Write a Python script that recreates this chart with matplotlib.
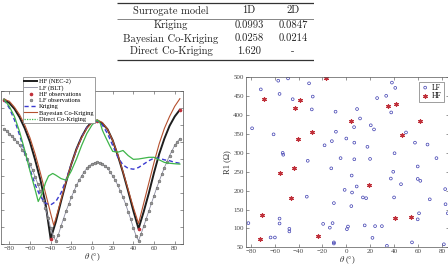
import matplotlib
matplotlib.use("Agg")
import matplotlib.pyplot as plt
from matplotlib.lines import Line2D

plt.rcParams["font.family"] = ["Liberation Serif", "DejaVu Serif"]
plt.rcParams["mathtext.fontset"] = "stix"

# ---- table ----
tab_header = ["Surrogate model", "1D", "2D"]
tab_models = ["Kriging", "Bayesian Co-Kriging", "Direct Co-Kriging"]
tab_1d = ["0.0993", "0.0258", "1.620"]
tab_2d = ["0.0847", "0.0214", "-"]

# ---- left panel (1D pattern) ----
hf_th = [-85, -80, -75, -70, -65, -60, -55, -50, -45, -40, -35, -30, -25, -20, -15,
         -10, -5, 0, 5, 10, 15, 20, 25, 30, 35, 40, 45, 50, 55, 60, 65, 70, 75, 80, 85]
hf_val = [8.5, 8.3, 7.95, 7.45, 6.8, 6.0, 4.95, 3.8, 2.4, 0.3, 1.3, 2.5, 3.65, 4.7, 5.6,
          6.3, 6.85, 7.2, 7.25, 7.1, 6.75, 6.1, 5.2, 4.2, 3.1, 1.95, 0.9, 1.9, 3.0, 4.2,
          5.3, 6.2, 6.95, 7.5, 7.9]

lf_th = [-85 + 2.5 * i for i in range(69)]
lf_val = [6.75, 6.65, 6.5, 6.35, 6.2, 6.0, 5.8, 5.55, 5.3, 5.0, 4.7, 4.35, 3.95, 3.55,
          3.1, 2.6, 2.1, 1.55, 0.95, 0.45, 0.2, 0.55, 1.05, 1.5, 1.95, 2.35, 2.75, 3.1,
          3.45, 3.75, 4.0, 4.25, 4.45, 4.6, 4.7, 4.78, 4.8, 4.78, 4.7, 4.6, 4.45, 4.25,
          4.0, 3.75, 3.45, 3.1, 2.75, 2.35, 1.9, 1.45, 0.95, 0.5, 0.2, 0.6, 1.05, 1.5,
          1.95, 2.4, 2.85, 3.3, 3.7, 4.1, 4.5, 4.85, 5.2, 5.5, 5.8, 6.0, 6.2]

hf_obs_th = [-85, -40, 5, 45, 85]
hf_obs_val = [8.5, 0.3, 7.25, 0.9, 7.9]

kr_th = [-85, -80, -75, -70, -65, -60, -55, -50, -45, -40, -35, -30, -25, -20, -15,
         -10, -5, 0, 5, 10, 15, 20, 25, 30, 35, 40, 45, 50, 55, 60, 65, 70, 75, 80, 85]
kr_val = [8.5, 8.0, 7.3, 6.4, 5.4, 4.4, 3.5, 2.8, 2.4, 2.3, 2.5, 3.0, 3.8, 4.7, 5.55,
          6.3, 6.85, 7.2, 7.25, 7.0, 6.5, 5.8, 5.1, 4.65, 4.45, 4.4, 4.5, 4.7, 4.9, 5.05,
          5.05, 4.95, 4.9, 4.8, 4.75]

bck_th = [-85, -80, -75, -70, -65, -60, -55, -50, -45, -40, -37, -35, -30, -25, -20, -15,
          -10, -5, 0, 5, 10, 15, 20, 25, 30, 35, 40, 45, 50, 55, 60, 65, 70, 75, 80, 85]
bck_val = [8.5, 8.4, 8.05, 7.6, 7.0, 6.25, 5.3, 4.2, 3.0, 1.8, 1.1, 1.5, 2.6, 3.7, 4.7, 5.55,
           6.25, 6.8, 7.15, 7.3, 7.15, 6.75, 6.1, 5.25, 4.25, 3.2, 2.15, 1.2, 2.4, 3.6, 4.8,
           5.9, 6.8, 7.5, 8.1, 8.55]

dck_th = [-85, -80, -75, -70, -65, -60, -55, -52, -48, -45, -42, -38, -35, -30, -25, -20,
          -15, -10, -5, 0, 5, 8, 10, 13, 17, 20, 25, 30, 35, 40, 45, 50, 55, 60, 65, 70,
          75, 80, 85]
dck_val = [8.5, 8.1, 7.5, 6.6, 5.5, 4.3, 3.2, 2.5, 3.0, 3.6, 4.0, 4.15, 4.05, 3.85, 3.75,
           4.3, 5.0, 5.8, 6.5, 7.0, 7.3, 7.1, 6.7, 6.3, 5.8, 5.45, 5.4, 5.5, 5.2, 4.98, 5.0,
           5.05, 5.1, 5.1, 4.95, 4.8, 4.75, 4.72, 4.7]

# ---- right panel (2D samples) ----
lf_x = [-71.6, -57, -48.8, -31.2, -55.9, -44.9, -28.1, -28.9, -78.9, -60.9, -53.3, -52.8,
        -32.3, -33.1, -9, -8.7, -18.2, -12.1, -4.8, -12.6, 0, 9, 11.5, 6.5, 6.7, 6.7, 4.5,
        17.7, 20.5, 23.2, 19.9, 25.8, 33.4, 38.2, 41, 37.6, 50, 57.5, 68, 40.4, 39.3, 37.3,
        45.8, 59.8, 59.8, 62, 75.5, 82.8, 69.9, 83.1, 85, 60.9, 59.8, 40, 8.7, -1.4, 4.8,
        4.2, 13.9, 16.6, 0.5, 1.4, -10.4, -19.4, -11.5, -13.8, -10.4, -10.4, 15.4, 24.1,
        29.8, 21.9, 34, 55, 81.7, -55.9, -55.9, -47.7, -47.7, -63.4, -59.8, -82]
lf_y = [468, 491, 497, 484, 456, 442, 449, 415, 365, 349, 300, 295, 279, 184, 409, 356,
        320, 331, 286, 259, 338, 416, 391, 368, 327, 283, 240, 316, 373, 362, 284, 445, 451,
        486, 472, 407, 354, 327, 322, 299, 250, 232, 217, 264, 231, 226, 286, 204, 177, 164,
        140, 140, 124, 182, 211, 202, 195, 159, 182, 180, 98, 105, 167, 112, 114, 102, 63,
        60, 108, 106, 106, 75, 54, 63, 58, 126, 113, 99, 92, 76, 76, 114]
hf_x = [-69.3, -16.6, -39, -42.7, -28.6, -40.7, -43.5, -55.3, -46.3, -70.7, -24.1, -71.9,
        3.6, 34.5, 41.5, 61.5, 46.6, 18.8, 40.7, 54.2]
hf_y = [442, 498, 440, 418, 356, 337, 259, 246, 180, 135, 80, 71, 385, 424, 429, 385,
        346, 215, 127, 130]

W, H = 448, 267
fig = plt.figure(figsize=(W / 100, H / 100), dpi=100)


def frac(x0, y0, x1, y1):
    # pixel box (top-left origin) -> figure fraction rect
    return [x0 / W, 1 - y1 / H, (x1 - x0) / W, (y1 - y0) / H]


# table
tax = fig.add_axes(frac(117, 0, 314, 62))
tax.set_xlim(117, 314)
tax.set_ylim(62, 0)
tax.axis("off")
tfont = dict(family="cmr10", fontsize=7.6, ha="center", va="center", color="#222")
tax.hlines([2.5, 59.5], 117, 314, color="#333", lw=0.9)
tax.hlines([19], 117, 314, color="#555", lw=0.5)
cols = [171, 249, 293]
for c, t in zip(cols, tab_header):
    tax.text(c, 10.5, t, **tfont)
for i, (m, a, b) in enumerate(zip(tab_models, tab_1d, tab_2d)):
    y = 25.5 + 13 * i
    tax.text(cols[0], y, m, **tfont)
    tax.text(cols[1], y, a, **tfont)
    tax.text(cols[2], y, b, **tfont)

# left panel
ax = fig.add_axes(frac(1, 91, 183, 244))
ax.plot(hf_th, hf_val, color="#1e1e1e", lw=1.4)
ax.plot(lf_th, lf_val, color="#8c8ca0", lw=0.6)
ax.plot(hf_obs_th, hf_obs_val, ls="none", marker="o", ms=1.6, color="#c0303a")
ax.plot(lf_th, lf_val, ls="none", marker="o", ms=2.0, mfc="#9a9a9a", mec="#5a5a5a", mew=0.35)
ax.plot(kr_th, kr_val, color="#3a3ad0", lw=1.0, ls=(0, (3, 2)))
ax.plot(bck_th, bck_val, color="#b5502e", lw=0.8)
ax.plot(dck_th, dck_val, color="#3fb54a", lw=0.9)
ax.set_xlim(-88, 88)
ax.set_ylim(0, 9)
ax.set_xticks(range(-80, 81, 20))
ax.set_yticks(range(0, 10))
ax.set_yticklabels([])
ax.tick_params(direction="in", length=2, width=0.4, labelsize=5, pad=1.5,
               top=True, right=True, colors="#444")
for sp in ax.spines.values():
    sp.set_linewidth(0.5)
    sp.set_color("#555")
ax.set_xlabel("$\\theta$ (°)", fontsize=6, labelpad=0, color="#333")

handles = [
    Line2D([], [], color="#1e1e1e", lw=1.4),
    Line2D([], [], color="#8c8ca0", lw=0.6),
    Line2D([], [], ls="none", marker="o", ms=1.6, color="#c0303a"),
    Line2D([], [], ls="none", marker="o", ms=2.0, mfc="#9a9a9a", mec="#5a5a5a", mew=0.35),
    Line2D([], [], color="#3a3ad0", lw=1.0, ls=(0, (3, 2))),
    Line2D([], [], color="#b5502e", lw=0.8),
    Line2D([], [], color="#3fb54a", lw=0.9, ls=(0, (1, 1))),
]
labels = ["HF (NEC-2)", "LF (BLT)", "HF observations", "LF observations", "Kriging",
          "Bayesian Co-Kriging", "Direct Co-Kriging"]
leg = fig.legend(handles, labels, loc="upper left", bbox_to_anchor=(23 / W, 1 - 77 / H),
                 fontsize=4.6, handlelength=2.0, handletextpad=0.3, labelspacing=0.12,
                 borderpad=0.2, borderaxespad=0, fancybox=False, framealpha=1,
                 edgecolor="#777")
leg.get_frame().set_linewidth(0.5)

# right panel
ax2 = fig.add_axes(frac(246, 77.3, 449, 247.3))
ax2.scatter(lf_x, lf_y, s=4, facecolors="none", edgecolors="#3d3db0", linewidths=0.5,
            label="LF")
ax2.scatter(hf_x, hf_y, s=7, marker=(6, 2, 0), color="#c0303a", linewidths=0.9,
            label="HF")
ax2.set_xlim(-84, 86)
ax2.set_ylim(50, 500)
ax2.set_xticks(range(-80, 81, 20))
ax2.set_yticks(range(50, 501, 50))
ax2.tick_params(direction="in", length=2, width=0.4, labelsize=5, pad=1.5,
                top=True, right=True, colors="#444")
for sp in ax2.spines.values():
    sp.set_linewidth(0.5)
    sp.set_color("#555")
ax2.set_xlabel("$\\theta$ (°)", fontsize=6, labelpad=0, color="#333")
ax2.set_ylabel("R1 (Ω)", fontsize=6, labelpad=1.5, color="#333")
leg2 = ax2.legend(loc="upper right", bbox_to_anchor=(443.7 / W, 1 - 81.7 / H),
                  bbox_transform=fig.transFigure, fontsize=5.5, handlelength=1.0,
                  handletextpad=0.4, labelspacing=0.1, borderpad=0.25, borderaxespad=0,
                  fancybox=False, framealpha=1, edgecolor="#777")
leg2.get_frame().set_linewidth(0.5)

fig.savefig("out.png", dpi=100, facecolor="white")
